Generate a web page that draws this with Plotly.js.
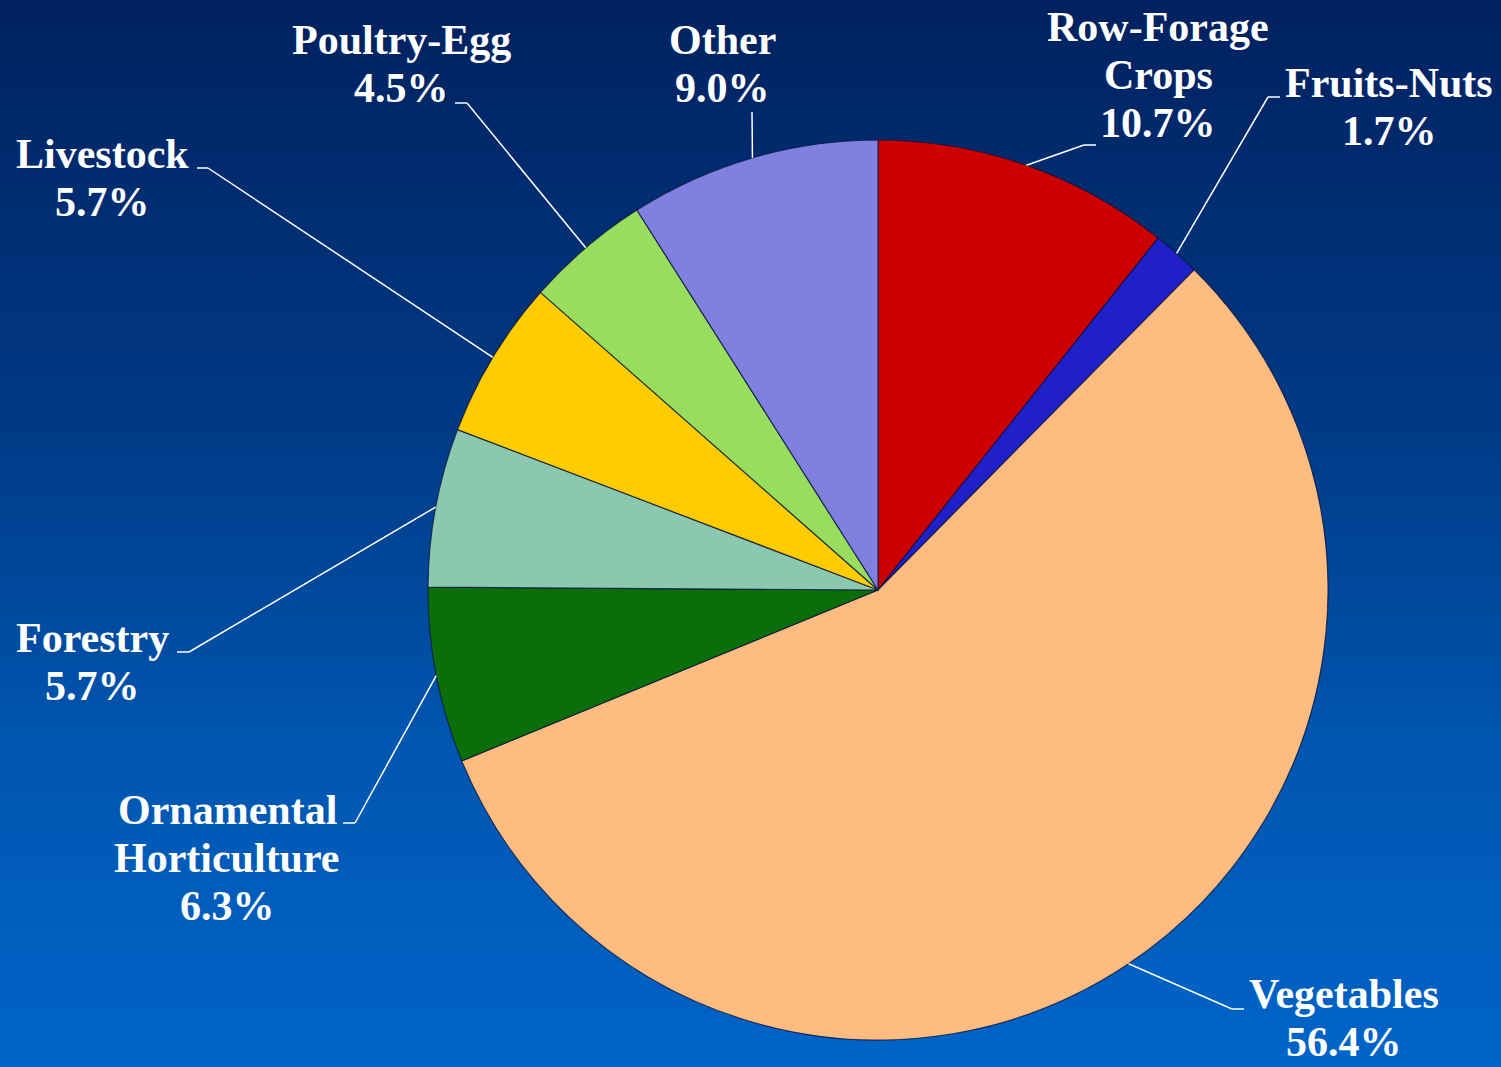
<!DOCTYPE html>
<html>
<head>
<meta charset="utf-8">
<script src="https://cdn.plot.ly/plotly-3.0.1.min.js"></script>
<style>
  html, body { margin: 0; padding: 0; }
  #chart {
    width: 1501px; height: 1067px;
    background: linear-gradient(to bottom, #00215f 0%, #003a86 40%, #0056b0 70%, #0064c8 100%);
  }
</style>
</head>
<body>
<div id="chart"></div>
<script>
// ---- data ----
const categories = ['Row-Forage Crops', 'Fruits-Nuts', 'Vegetables', 'Ornamental Horticulture',
                    'Forestry', 'Livestock', 'Poultry-Egg', 'Other'];
const labelLines = [['Row-Forage', 'Crops'], ['Fruits-Nuts'], ['Vegetables'], ['Ornamental', 'Horticulture'],
                    ['Forestry'], ['Livestock'], ['Poultry-Egg'], ['Other']];
const shares = [10.7, 1.7, 56.4, 6.3, 5.7, 5.7, 4.5, 9.0];
const colors = ['#cc0000', '#2020c8', '#ffbc80', '#0a6e0a', '#8cc8b0', '#ffcc00', '#99dd5f', '#8080e0'];

// ---- layout (pixels) ----
const W = 1501, H = 1067;
const CX = 878, CY = 590, R = 450;
// label text centre (x, y of first line) and leader elbow / tail
const labelX = [1158, 1389, 1344, 227, 92, 102, 402, 722];
const labelY = [27, 83, 994, 810, 638, 154, 40, 40];
const elbows = [[1084, 145], [1268, 97], [1232, 1009], [355, 823], [189, 652], [208, 168], [467, 103], [752, 112]];
const tails  = [[1096, 145], [1280, 97], [1244, 1009], [343, 823], [177, 652], [197, 168], [455, 103], [752, 112]];
const LINE_H = 48;
const FONT = 'Liberation Serif, Times New Roman, serif';

const px = x => x / W;
const py = y => 1 - y / H;

const trace = {
  type: 'pie',
  labels: categories,
  values: shares,
  sort: false,
  direction: 'clockwise',
  rotation: 0,
  textinfo: 'none',
  hoverinfo: 'label+percent',
  marker: { colors: colors, line: { color: 'rgba(10,20,60,0.75)', width: 1.2 } },
  domain: { x: [px(CX - R), px(CX + R)], y: [py(CY + R), py(CY - R)] },
  showlegend: false
};

// leader lines, starting at the slice mid-angle on the rim
const total = shares.reduce((a, b) => a + b, 0);
const shapes = [];
const annotations = [];
let cum = 0;
shares.forEach((v, i) => {
  const mid = (cum + v / 2) / total * 2 * Math.PI;
  cum += v;
  const ex = CX + R * Math.sin(mid);
  const ey = CY - R * Math.cos(mid);
  const lineStyle = { color: 'white', width: 1.5 };
  shapes.push({ type: 'line', xref: 'paper', yref: 'paper',
    x0: px(ex), y0: py(ey), x1: px(elbows[i][0]), y1: py(elbows[i][1]), line: lineStyle });
  if (tails[i][0] !== elbows[i][0] || tails[i][1] !== elbows[i][1]) {
    shapes.push({ type: 'line', xref: 'paper', yref: 'paper',
      x0: px(elbows[i][0]), y0: py(elbows[i][1]), x1: px(tails[i][0]), y1: py(tails[i][1]), line: lineStyle });
  }
  const lines = labelLines[i].concat([v.toFixed(1) + '%']);
  lines.forEach((t, k) => {
    annotations.push({
      xref: 'paper', yref: 'paper',
      x: px(labelX[i]), y: py(labelY[i] + k * LINE_H),
      xanchor: 'center', yanchor: 'middle',
      text: '<b>' + t + '</b>', showarrow: false,
      font: { family: FONT, size: 42, color: 'white' }
    });
  });
});

const layout = {
  width: W, height: H,
  margin: { l: 0, r: 0, t: 0, b: 0 },
  paper_bgcolor: 'rgba(0,0,0,0)',
  plot_bgcolor: 'rgba(0,0,0,0)',
  shapes: shapes,
  annotations: annotations
};

Plotly.newPlot('chart', [trace], layout, { displayModeBar: false, staticPlot: true });
</script>
</body>
</html>
